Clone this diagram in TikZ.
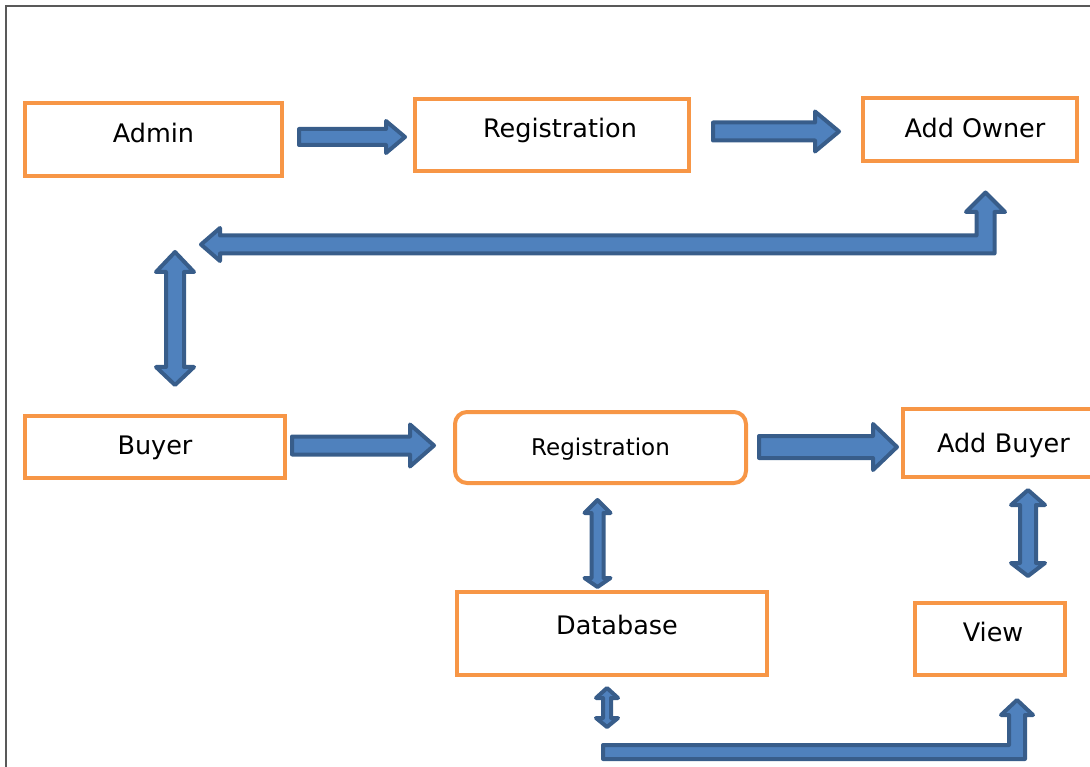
\documentclass[tikz,border=0pt]{standalone}
\usepackage{fontspec}
\setmainfont{DejaVu Sans}
\definecolor{boxorange}{HTML}{F79646}
\definecolor{arrowfill}{HTML}{4F81BD}
\definecolor{arrowline}{HTML}{385D8A}
\definecolor{framegray}{HTML}{595959}
\newcommand\rarrow[6]{% x1 xb xt yc s h
  \draw[barrow] (#1,#4-#5) -- (#2,#4-#5) -- (#2,#4-#6) -- (#3,#4) -- (#2,#4+#6) -- (#2,#4+#5) -- (#1,#4+#5) -- cycle;}
\newcommand\vdarrow[7]{% xc ytip1 ybase1 ybase2 ytip2 s h
  \draw[barrow] (#1,#2) -- (#1+#7,#3) -- (#1+#6,#3) -- (#1+#6,#4) -- (#1+#7,#4) -- (#1,#5)
     -- (#1-#7,#4) -- (#1-#6,#4) -- (#1-#6,#3) -- (#1-#7,#3) -- cycle;}
\begin{document}
\begin{tikzpicture}[x=1pt,y=-1pt,
  box/.style={draw=boxorange, line width=4pt, fill=white, text=black, inner sep=0pt,
    font=\fontsize{25.5}{30}\selectfont, text height=19pt},
  barrow/.style={draw=arrowline, fill=arrowfill, line width=4pt, line join=round}]
\useasboundingbox (0,0) rectangle (1090,767);
\draw[framegray, line width=2pt] (6,767) -- (6,6) -- (1090,6);

\node[box, minimum width=257pt, minimum height=73pt, text depth=13pt] (admin) at (153.5,139.5) {Admin};
\node[box, minimum width=274pt, minimum height=72pt, text depth=13pt] (reg1) at (552,135) {\hspace{16pt}Registration};
\node[box, minimum width=214pt, minimum height=63pt, text depth=3pt] (owner) at (970,129.5) {\hspace{10pt}Add Owner};
\node[box, minimum width=260pt, minimum height=62pt, text depth=4pt] (buyer) at (155,447) {Buyer};
\node[box, rounded corners=12pt, minimum width=291pt, minimum height=71pt, text depth=4pt,
  font=\fontsize{23}{28}\selectfont] (reg2) at (600.5,447.5) {Registration};
\node[box, minimum width=195pt, minimum height=68pt, text depth=0pt, text width=195pt, align=left] (addbuyer) at (1000.5,443) {\hspace{34pt}Add Buyer};
\node[box, minimum width=310pt, minimum height=83pt, text depth=18pt] (db) at (612,633.5) {\hspace{10pt}Database};
\node[box, minimum width=150pt, minimum height=72pt, text depth=14pt] (view) at (990,639) {\hspace{6pt}View};

% horizontal arrows
\rarrow{299}{386}{405}{137}{8}{16}
\rarrow{713}{815}{839}{131.5}{9}{20}
\rarrow{292}{410}{434}{445.5}{9}{21}
\rarrow{759}{873}{897}{447}{11}{23}

% vertical double arrows
\vdarrow{175}{252}{272}{367}{385}{9}{19}
\vdarrow{597.5}{500}{513}{578}{587}{6}{13}
\vdarrow{1028}{490}{505}{563}{576}{8}{17}
\vdarrow{607}{688}{698}{718}{727}{4}{11}

% bent double arrow (Buyer side <-> Add Owner)
\draw[barrow] (201,244.5) -- (220,228) -- (220,235.5) -- (976.5,235.5) -- (976.5,212) -- (966,212)
  -- (985.5,192.5) -- (1005,212) -- (994.5,212) -- (994.5,253.5) -- (220,253.5) -- (220,261) -- cycle;

% bent arrow (Database -> View)
\draw[barrow] (603,745) -- (1009,745) -- (1009,715) -- (1001,715) -- (1017,700) -- (1033,715)
  -- (1025,715) -- (1025,759) -- (603,759) -- cycle;
\end{tikzpicture}
\end{document}
